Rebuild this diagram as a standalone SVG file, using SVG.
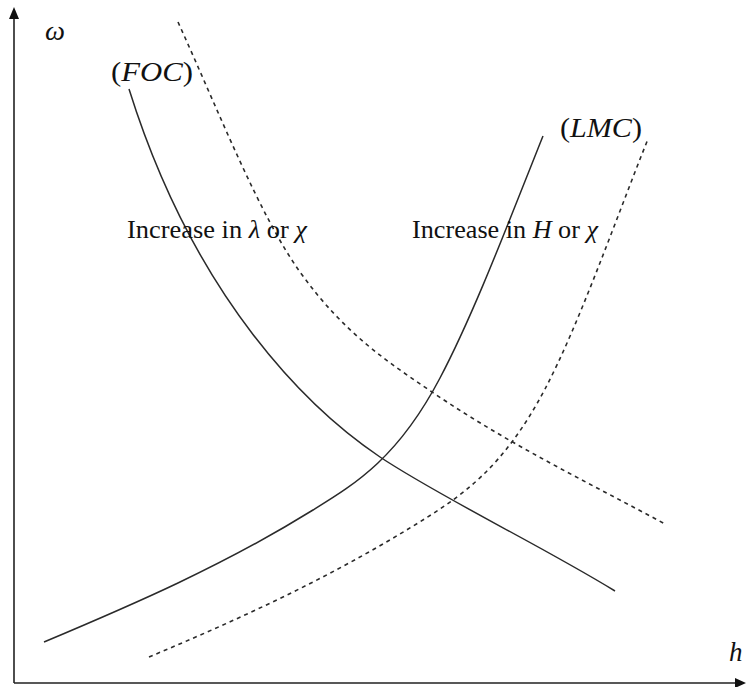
<svg xmlns="http://www.w3.org/2000/svg" width="746" height="687" viewBox="0 0 746 687">
<style>
.t{font-family:"Liberation Serif","Times New Roman",serif;font-size:26px;fill:#111}
.b{font-size:27px}
.i{font-style:italic}
.c{fill:none;stroke:#2a2a2a;stroke-width:1.5}
.d{fill:none;stroke:#2a2a2a;stroke-width:1.6;stroke-dasharray:4 4}
.ax{fill:none;stroke:#222;stroke-width:1.6}
</style>
<rect width="746" height="687" fill="#fff"/>
<g id="axes">
<path class="ax" d="M14,683 V16 M14,683 H738"/>
<path d="M14,7 L9,19 L19,19 Z M746,683 L735,678 L735,688 Z" fill="#111"/>
<text class="t b i" x="45" y="40" textLength="20" lengthAdjust="spacingAndGlyphs">ω</text>
<text class="t b i" x="729" y="661">h</text>
</g>
<g id="connectors">
<path id="foc" class="c" d="M129,89 C195,300 310,410 380,457 C440,497 540,545 615,591"/>
<path id="foc2" class="d" d="M178,22 C218.7,111.5 259.3,215 300,272 C344,333.6 388,362.1 432,392 C509.7,444.8 587.3,482 665,524"/>
<path id="lmc" class="c" d="M44,642 C133.67,604.3 223.33,565.6 313,510 C355.33,483.8 397.67,458.4 440,378 C474.33,312.8 508.67,221.8 543,136"/>
<path id="lmc2" class="d" d="M149,657 C238.67,619.3 328.33,578.6 418,523 C460.33,496.8 502.67,469.4 545,389 C579.33,323.8 613.67,224.8 648,139"/>
</g>
<g id="label-foc">
<text class="t b" x="111" y="81" textLength="82" lengthAdjust="spacingAndGlyphs">(<tspan class="i">FOC</tspan>)</text>
</g>
<g id="label-lmc">
<text class="t b" x="560" y="137" textLength="82" lengthAdjust="spacingAndGlyphs">(<tspan class="i">LMC</tspan>)</text>
</g>
<g id="label-shift-foc">
<text class="t" x="127" y="238" textLength="180" lengthAdjust="spacingAndGlyphs">Increase in <tspan class="i">λ</tspan> or <tspan class="i">χ</tspan></text>
</g>
<g id="label-shift-lmc">
<text class="t" x="412" y="238" textLength="186" lengthAdjust="spacingAndGlyphs">Increase in <tspan class="i">H</tspan> or <tspan class="i">χ</tspan></text>
</g>
</svg>
